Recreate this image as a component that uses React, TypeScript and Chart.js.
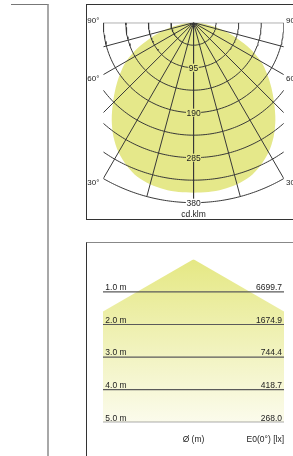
import React, { useEffect, useRef } from "react";
import { Chart, registerables } from "chart.js";

Chart.register(...registerables);

// ---------- Polar (luminous intensity) diagram data ----------
const ringValues = [47.5, 95, 142.5, 190, 237.5, 285, 332.5, 380];
const ringLabels = [95, 190, 285, 380];
const spokeAngles = [-90, -75, -60, -45, -30, -15, 0, 15, 30, 45, 60, 75, 90];
const angleLabels = [90, 60, 30];
const intensityAngles = [0, 5, 10, 15, 20, 25, 30, 35, 40, 45, 50, 55, 60, 65, 70, 75, 80, 85, 90];
const intensityValues = [359, 359, 357, 353, 346, 333, 316, 294, 268, 240, 214, 189, 164, 132, 98, 68, 42, 18, 0];
const unitLabel = "cd.klm";
const gridHalfWidth = 190; // cd/klm
const maxRadius = 380;

// ---------- Cone (illuminance) diagram data ----------
const heights = [1, 2, 3, 4, 5];
const heightLabels = ["1.0 m", "2.0 m", "3.0 m", "4.0 m", "5.0 m"];
const illuminanceLabels = ["6699.7", "1674.9", "744.4", "418.7", "268.0"];
const beamHalfAngle = 60;
const coneHalfWidth = 2.776; // m
const diameterTitle = "Ø (m)";
const illuminanceTitle = "E0(0°) [lx]";

const FONT = '"Liberation Sans", Arial, sans-serif';
const YELLOW = "#e5e88a";
const GRID = "#383838";
const TEXT = "#222";

const rad = (d: number) => (d * Math.PI) / 180;

function polarPoint(angleDeg: number, r: number) {
  return { x: r * Math.sin(rad(angleDeg)), y: -r * Math.cos(rad(angleDeg)) };
}

function ringPoints(r: number) {
  const lim = r <= gridHalfWidth ? 90 : (Math.asin(gridHalfWidth / r) * 180) / Math.PI;
  const pts: { x: number; y: number }[] = [];
  const steps = 90;
  for (let i = 0; i <= steps; i++) {
    const a = -lim + (2 * lim * i) / steps;
    pts.push(polarPoint(a, r));
  }
  return pts;
}

function spokeEnd(a: number) {
  const s = Math.abs(Math.sin(rad(a)));
  return s === 0 ? maxRadius : Math.min(maxRadius, gridHalfWidth / s);
}

function PolarChart() {
  const ref = useRef<HTMLCanvasElement | null>(null);
  useEffect(() => {
    if (!ref.current) return;
    const curve: { x: number; y: number }[] = [];
    for (let i = intensityAngles.length - 1; i >= 0; i--) curve.push(polarPoint(-intensityAngles[i], intensityValues[i]));
    for (let i = 1; i < intensityAngles.length; i++) curve.push(polarPoint(intensityAngles[i], intensityValues[i]));

    const datasets: any[] = [
      {
        data: curve,
        showLine: true,
        pointRadius: 0,
        borderWidth: 0,
        borderColor: "rgba(0,0,0,0)",
        backgroundColor: YELLOW,
        fill: "shape",
        tension: 0.3,
        order: 10,
      },
    ];
    ringValues.forEach((r) =>
      datasets.push({
        data: ringPoints(r),
        showLine: true,
        pointRadius: 0,
        borderWidth: 1,
        borderColor: GRID,
        fill: false,
        order: 1,
      })
    );
    spokeAngles.forEach((a) =>
      datasets.push({
        data: [{ x: 0, y: 0 }, polarPoint(a, spokeEnd(a))],
        showLine: true,
        pointRadius: 0,
        borderWidth: 1,
        borderColor: GRID,
        fill: false,
        order: 1,
      })
    );

    const labels = {
      id: "polarLabels",
      afterDatasetsDraw(chart: any) {
        const { ctx, chartArea, scales } = chart;
        const xs = scales.x;
        const ys = scales.y;
        ctx.save();
        ctx.font = `8.5px ${FONT}`;
        ctx.textBaseline = "middle";
        const cx = xs.getPixelForValue(0);
        ringLabels.forEach((v) => {
          const py = ys.getPixelForValue(-v);
          const t = String(v);
          const w = ctx.measureText(t).width;
          ctx.fillStyle = v < intensityValues[0] ? YELLOW : "#ffffff";
          ctx.fillRect(cx - w / 2 - 0.5, py - 4, w + 1, 8);
          ctx.fillStyle = TEXT;
          ctx.textAlign = "center";
          ctx.fillText(t, cx, py + 0.5);
        });
        ctx.font = `8px ${FONT}`;
        angleLabels.forEach((a) => {
          const e = polarPoint(a, spokeEnd(a));
          const py = ys.getPixelForValue(e.y) + (a === 90 ? -1.5 : 4);
          ctx.textAlign = "left";
          ctx.fillText(`${a}°`, chartArea.left - 16, py);
          ctx.fillText(`${a}°`, chartArea.right + 2.2, py);
        });
        ctx.font = `8.5px ${FONT}`;
        ctx.textAlign = "center";
        ctx.fillText(unitLabel, cx, ys.getPixelForValue(-maxRadius) + 11.5);
        ctx.restore();
      },
    };

    const chart = new Chart(ref.current, {
      type: "scatter",
      data: { datasets },
      options: {
        animation: false,
        responsive: false,
        maintainAspectRatio: false,
        events: [],
        layout: { padding: { left: 16.3, right: 9.2, top: 17.7, bottom: 11.6 } },
        scales: {
          x: { type: "linear", min: -gridHalfWidth, max: gridHalfWidth, display: false },
          y: { type: "linear", min: -390, max: 0, display: false },
        },
        plugins: { legend: { display: false }, tooltip: { enabled: false } },
      },
      plugins: [labels],
    } as any);
    return () => chart.destroy();
  }, []);
  return <canvas ref={ref} width={206} height={214} style={{ position: "absolute", left: 87, top: 5, width: 206, height: 214 }} />;
}

function ConeChart() {
  const ref = useRef<HTMLCanvasElement | null>(null);
  useEffect(() => {
    if (!ref.current) return;
    const maxH = heights[heights.length - 1];
    const spread = Math.tan(rad(beamHalfAngle)) * maxH;
    const datasets: any[] = [
      {
        data: [
          { x: -spread, y: maxH },
          { x: 0, y: 0 },
          { x: spread, y: maxH },
        ],
        showLine: true,
        pointRadius: 0,
        borderWidth: 0,
        borderColor: "rgba(0,0,0,0)",
        fill: { value: maxH },
        order: 10,
        backgroundColor: (c: any) => {
          const { chart } = c;
          const { ctx, chartArea, scales } = chart;
          if (!chartArea || !scales.y) return YELLOW;
          const g = ctx.createLinearGradient(0, scales.y.getPixelForValue(0), 0, scales.y.getPixelForValue(maxH));
          g.addColorStop(0, "rgb(229,232,132)");
          g.addColorStop(1, "rgb(251,251,236)");
          return g;
        },
      },
    ];
    heights.forEach((h) =>
      datasets.push({
        data: [
          { x: -coneHalfWidth, y: h },
          { x: coneHalfWidth, y: h },
        ],
        showLine: true,
        pointRadius: 0,
        borderWidth: 1.2,
        borderColor: "#5a5a5a",
        fill: false,
        order: 1,
      })
    );
    const labels = {
      id: "coneLabels",
      afterDatasetsDraw(chart: any) {
        const { ctx, chartArea, scales } = chart;
        ctx.save();
        ctx.font = `8.5px ${FONT}`;
        ctx.fillStyle = TEXT;
        ctx.textBaseline = "alphabetic";
        heights.forEach((h, i) => {
          const py = scales.y.getPixelForValue(h) - 1.8;
          ctx.textAlign = "left";
          ctx.fillText(heightLabels[i], chartArea.left + 2.3, py);
          ctx.textAlign = "right";
          ctx.fillText(illuminanceLabels[i], chartArea.right - 2, py);
        });
        ctx.textBaseline = "middle";
        const fy = chartArea.bottom + 17;
        ctx.textAlign = "center";
        ctx.fillText(diameterTitle, scales.x.getPixelForValue(0), fy);
        ctx.textAlign = "right";
        ctx.fillText(illuminanceTitle, chartArea.right, fy);
        ctx.restore();
      },
    };
    const chart = new Chart(ref.current, {
      type: "scatter",
      data: { datasets },
      options: {
        animation: false,
        responsive: false,
        maintainAspectRatio: false,
        events: [],
        layout: { padding: { left: 16, right: 9, top: 16.3, bottom: 33.7 } },
        scales: {
          x: { type: "linear", min: -coneHalfWidth, max: coneHalfWidth, display: false },
          y: { type: "linear", min: 0, max: maxH, reverse: true, display: false },
        },
        plugins: { legend: { display: false }, tooltip: { enabled: false } },
      },
      plugins: [labels],
    } as any);
    return () => chart.destroy();
  }, []);
  return <canvas ref={ref} width={206} height={213} style={{ position: "absolute", left: 87, top: 243, width: 206, height: 213 }} />;
}

export default function App() {
  return (
    <div style={{ position: "fixed", left: 0, top: 0, width: 293, height: 456, overflow: "hidden", background: "#fff" }}>
      <div
        style={{
          position: "absolute",
          left: 11,
          top: 4,
          width: 36,
          height: 600,
          borderTop: "1px solid #777",
          borderRight: "2px solid #a8a8a8",
        }}
      />
      <div
        style={{
          position: "absolute",
          left: 86,
          top: 4,
          width: 300,
          height: 214,
          border: "1px solid #333",
        }}
      />
      <div
        style={{
          position: "absolute",
          left: 86,
          top: 242,
          width: 300,
          height: 400,
          borderTop: "1px solid #888",
          borderLeft: "1px solid #333",
        }}
      />
      <PolarChart />
      <ConeChart />
    </div>
  );
}
